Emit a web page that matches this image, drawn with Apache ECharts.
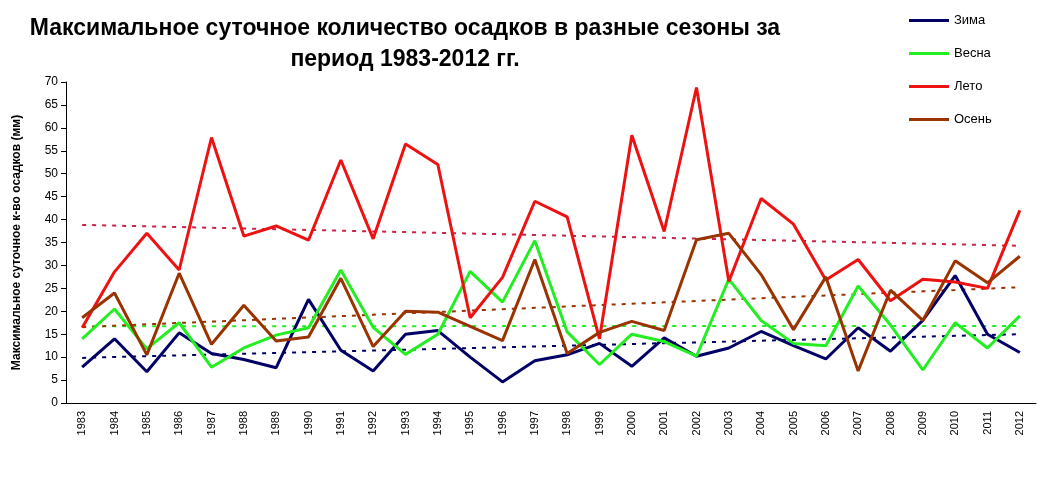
<!DOCTYPE html>
<html><head><meta charset="utf-8">
<script src="https://cdn.jsdelivr.net/npm/echarts@6/dist/echarts.min.js"></script>
<style>html,body{margin:0;padding:0;background:#fff}#c{width:1040px;height:485px}</style>
</head><body><div id="c"></div>
<script>
const years = [];
for (let y = 1983; y <= 2012; y++) years.push(String(y));
const winter = [7.8,14,6.8,15.3,10.8,9.5,7.7,22.6,11.5,7.0,15.0,15.8,10.0,4.6,9.2,10.5,13,8,14.2,10.2,12,15.6,12.5,9.6,16.4,11.3,18,27.8,15,11];
const spring = [14,20.5,11.8,17.5,7.8,12,14.8,16.4,29,16.5,10.6,15,28.7,22,35.4,15.5,8.4,15,13.4,10.2,27,18,13,12.5,25.5,17,7.2,17.5,12,19];
const summer = [16.4,28.6,37,29,57.9,36.4,38.6,35.5,53,35.8,56.5,52,18.6,27.4,44,40.6,14,58.4,37.4,68.8,26.5,44.6,39,26.8,31.3,22.3,27,26.4,25,42];
const autumn = [18.6,24,10.5,28.3,12.8,21.3,13.5,14.4,27.2,12.3,20,19.8,16.7,13.6,31.3,10.8,15.4,17.8,15.8,35.6,37,28,16,27.5,7,24.6,18,31,26.2,32];
function trend(a){const n=a.length;let sx=0,sy=0,sxx=0,sxy=0;a.forEach((v,i)=>{sx+=i;sy+=v;sxx+=i*i;sxy+=i*v});const b=(n*sxy-sx*sy)/(n*sxx-sx*sx);const c=(sy-b*sx)/n;return a.map((v,i)=>+(c+b*i).toFixed(2));}
const names=['Зима','Весна','Лето','Осень'];
const cols=['#000066','#22ee22','#ee1111','#993300'];
const tcols=['#000066','#22ee22','#cc2244','#993300'];
const data=[winter,spring,summer,autumn];
const series=[];
data.forEach((d,i)=>series.push({name:names[i],type:'line',data:d,symbol:'none',lineStyle:{color:cols[i],width:3},itemStyle:{color:cols[i]},z:3}));
data.forEach((d,i)=>series.push({name:names[i]+' тренд',type:'line',data:trend(d),symbol:'none',lineStyle:{color:tcols[i],width:2,type:[4,6]},silent:true,z:2}));
const chart=echarts.init(document.getElementById('c'));
chart.setOption({
  animation:false,
  title:{text:'Максимальное суточное количество осадков в разные сезоны за\nпериод 1983-2012 гг.',left:400,textAlign:'center',top:8,textStyle:{fontFamily:'Liberation Sans',fontWeight:'bold',fontSize:23,lineHeight:31,color:'#000'}},
  legend:{data:names,orient:'vertical',left:904,top:9,itemGap:20,itemWidth:40,itemHeight:3,icon:'rect',textStyle:{fontFamily:'Liberation Sans',fontSize:13,color:'#000'}},
  grid:{left:66,right:4,top:82,bottom:82},
  xAxis:{type:'category',data:years,boundaryGap:true,axisLine:{lineStyle:{color:'#000'}},axisTick:{interval:0,lineStyle:{color:'#000'}},axisLabel:{interval:0,rotate:90,fontFamily:'Liberation Sans',fontSize:11,color:'#000'}},
  yAxis:{type:'value',min:0,max:70,interval:5,name:'Максимальное суточное к-во осадков (мм)',nameLocation:'middle',nameGap:43,nameTextStyle:{fontFamily:'Liberation Sans',fontWeight:'bold',fontSize:12,color:'#000'},axisLine:{show:true,lineStyle:{color:'#000'}},axisTick:{show:true,lineStyle:{color:'#000'}},splitLine:{show:false},axisLabel:{fontFamily:'Liberation Sans',fontSize:12,color:'#000'}},
  series:series
});
</script></body></html>
